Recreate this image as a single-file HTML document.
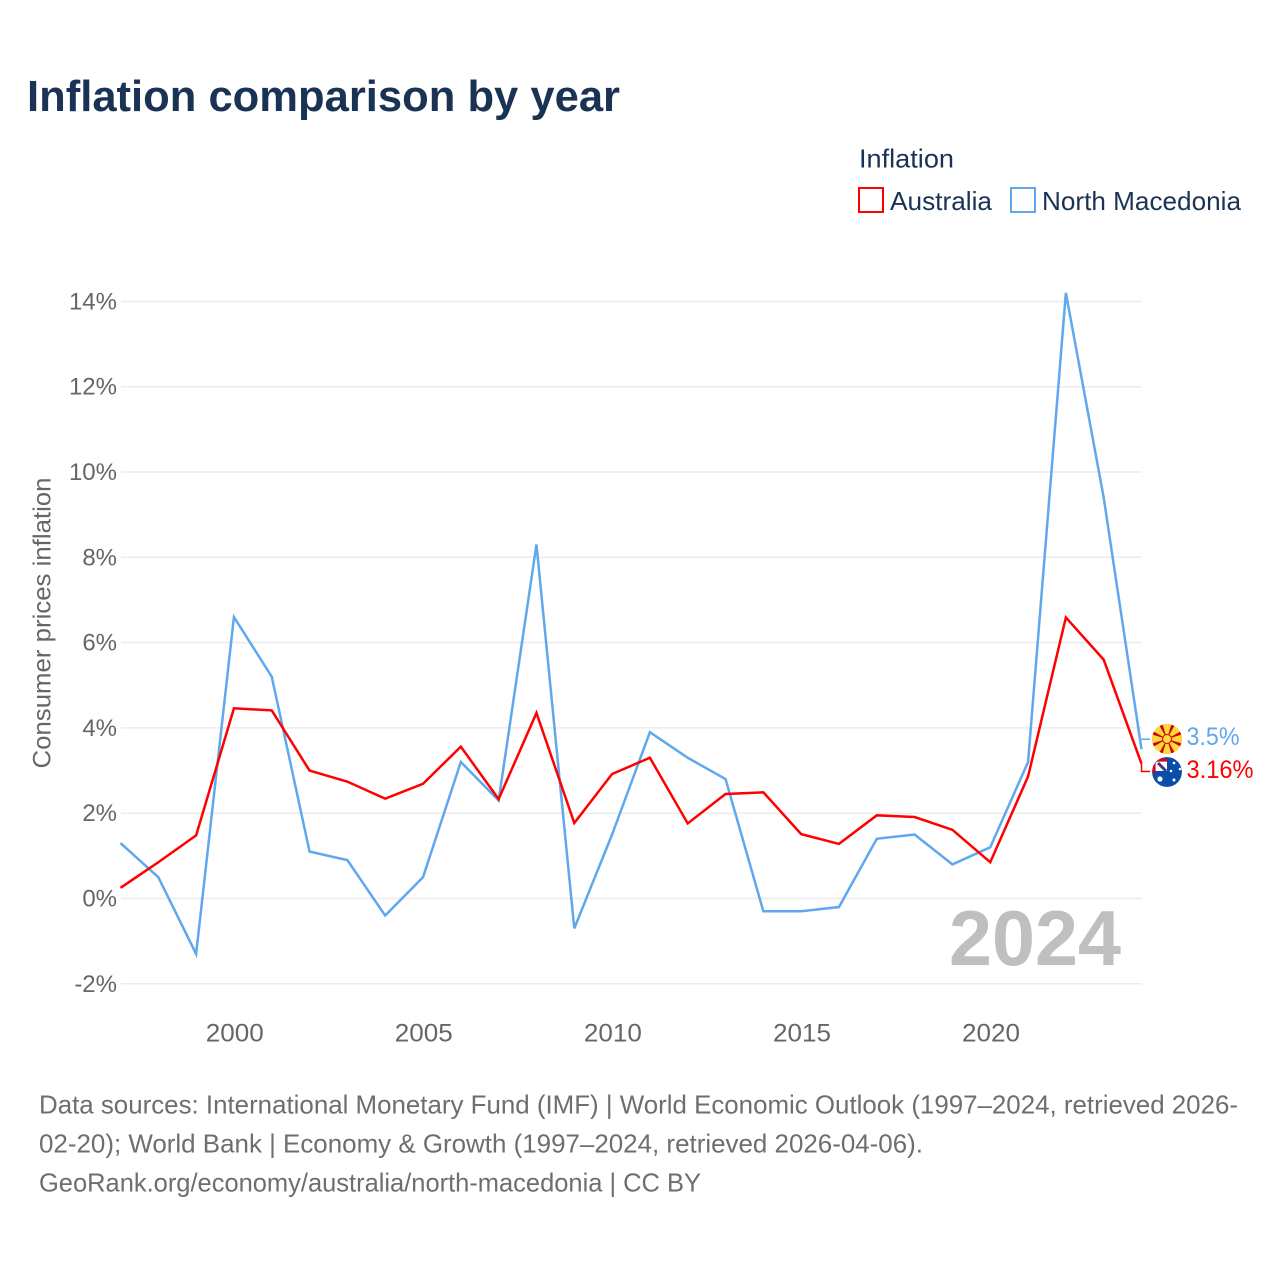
<!DOCTYPE html>
<html>
<head>
<meta charset="utf-8">
<style>
html,body{margin:0;padding:0;background:#fff;}
svg{display:block;font-family:"Liberation Sans",sans-serif;}
</style>
</head>
<body>
<svg id="chart" xmlns="http://www.w3.org/2000/svg" width="1280" height="1280" viewBox="0 0 1280 1280">
  <defs>
    <clipPath id="flag-clip-mk"><circle cx="1167" cy="739" r="15"/></clipPath>
    <clipPath id="flag-clip-au"><circle cx="1167" cy="772" r="15"/></clipPath>
  </defs>
  <text x="27" y="111" font-size="44" font-weight="bold" fill="#1a3354" textLength="593" lengthAdjust="spacingAndGlyphs">Inflation comparison by year</text>

  <text x="859" y="167.5" font-size="26" fill="#1a3354" textLength="95" lengthAdjust="spacingAndGlyphs">Inflation</text>
  <g>
    <rect x="859" y="188" width="24" height="24" fill="#fff" stroke="#ff0000" stroke-width="2"/>
    <text x="890" y="210" font-size="26" fill="#1a3354" textLength="102" lengthAdjust="spacingAndGlyphs">Australia</text>
  </g>
  <g>
    <rect x="1011" y="188" width="24" height="24" fill="#fff" stroke="#5fa8ee" stroke-width="2"/>
    <text x="1042" y="210" font-size="26" fill="#1a3354" textLength="199" lengthAdjust="spacingAndGlyphs">North Macedonia</text>
  </g>

  <text transform="translate(50.5,623) rotate(-90)" text-anchor="middle" font-size="25" fill="#666666" textLength="291" lengthAdjust="spacingAndGlyphs">Consumer prices inflation</text>

  <g id="grid"></g>
  <g id="yticks"></g>
  <g id="xticks"></g>

  <text x="1121" y="965" text-anchor="end" font-size="78" font-weight="bold" fill="#bfbfbf" textLength="172" lengthAdjust="spacingAndGlyphs">2024</text>

  <g id="series"></g>

  <path id="conn-mk" fill="none" stroke="#5fa8ee" stroke-width="1.5"/>
  <path id="conn-au" fill="none" stroke="#ff0000" stroke-width="1.5"/>

  <g clip-path="url(#flag-clip-mk)">
    <circle cx="1167" cy="739" r="15" fill="#d20000"/>
    <g fill="#ffd83d">
      <polygon points="1167,739 1162.5,724 1171.5,724"/>
      <polygon points="1167,739 1162.5,754 1171.5,754"/>
      <polygon points="1167,739 1152,734.5 1152,743.5"/>
      <polygon points="1167,739 1182,734.5 1182,743.5"/>
      <polygon points="1167,739 1151,730 1158,723"/>
      <polygon points="1167,739 1183,730 1176,723"/>
      <polygon points="1167,739 1151,748 1158,755"/>
      <polygon points="1167,739 1183,748 1176,755"/>
      <circle cx="1167" cy="739" r="4.5" stroke="#d20000" stroke-width="1"/>
    </g>
  </g>

  <g clip-path="url(#flag-clip-au)">
    <circle cx="1167" cy="772" r="15" fill="#0a4ea8"/>
    <path d="M1154 774 V762 Q1155 759 1158 759 H1167 V771 H1154 Z" fill="#ffffff"/>
    <path d="M1154 773 V763 Q1154.5 760.5 1158 760 H1167" fill="none" stroke="#d4002a" stroke-width="3.2"/>
    <path d="M1158 763 L1166 771" stroke="#0a4ea8" stroke-width="3"/>
    <path d="M1159 764 L1165 770" stroke="#d4002a" stroke-width="1.2"/>
    <g fill="#ffffff">
      <circle cx="1160" cy="779" r="2.6"/>
      <circle cx="1174" cy="763" r="1.3"/>
      <circle cx="1180" cy="769" r="1.3"/>
      <circle cx="1171" cy="771" r="1.3"/>
      <circle cx="1174" cy="780" r="1.5"/>
    </g>
  </g>

  <text x="1186.5" y="745" font-size="25" fill="#5fa8ee" textLength="53" lengthAdjust="spacingAndGlyphs">3.5%</text>
  <text x="1186.5" y="778" font-size="25" fill="#ff0000" textLength="67" lengthAdjust="spacingAndGlyphs">3.16%</text>

  <g font-size="26" fill="#6e6e6e">
    <text x="39" y="1113.5" textLength="1199" lengthAdjust="spacingAndGlyphs">Data sources: International Monetary Fund (IMF) | World Economic Outlook (1997–2024, retrieved 2026-</text>
    <text x="39" y="1152.5" textLength="884" lengthAdjust="spacingAndGlyphs">02-20); World Bank | Economy &amp; Growth (1997–2024, retrieved 2026-04-06).</text>
    <text x="39" y="1191.5" textLength="662" lengthAdjust="spacingAndGlyphs">GeoRank.org/economy/australia/north-macedonia | CC BY</text>
  </g>
</svg>
<script>
var years = [1997,1998,1999,2000,2001,2002,2003,2004,2005,2006,2007,2008,2009,2010,2011,2012,2013,2014,2015,2016,2017,2018,2019,2020,2021,2022,2023,2024];
var australia = [0.25,0.85,1.48,4.46,4.41,3.0,2.74,2.34,2.69,3.56,2.33,4.35,1.77,2.92,3.30,1.76,2.45,2.49,1.51,1.28,1.95,1.91,1.61,0.85,2.86,6.59,5.6,3.16];
var northMacedonia = [1.3,0.5,-1.3,6.6,5.2,1.1,0.9,-0.4,0.5,3.2,2.3,8.3,-0.7,1.5,3.9,3.3,2.8,-0.3,-0.3,-0.2,1.4,1.5,0.8,1.2,3.2,14.2,9.4,3.5];
var yTickValues = [-2,0,2,4,6,8,10,12,14];
var yTickLabels = ["-2%","0%","2%","4%","6%","8%","10%","12%","14%"];
var xTickValues = [2000,2005,2010,2015,2020];
var xTickLabels = ["2000","2005","2010","2015","2020"];

var NS = "http://www.w3.org/2000/svg";
function xScale(year){ return 120.5 + (year - 1997) * (1141.5 - 120.5) / 27; }
function yScale(v){ return 898.5 - v * 42.65; }

var grid = document.getElementById("grid");
var yticks = document.getElementById("yticks");
var xticks = document.getElementById("xticks");
var series = document.getElementById("series");

yTickValues.forEach(function(v, i){
  var line = document.createElementNS(NS, "line");
  
  
  line.setAttribute("x1", 121);
  line.setAttribute("x2", 1142);
  line.setAttribute("y1", yScale(v));
  line.setAttribute("y2", yScale(v));
  line.setAttribute("stroke", "#ececec");
  line.setAttribute("stroke-width", "1.5");
  grid.appendChild(line);

  var t = document.createElementNS(NS, "text");
  
  
  t.setAttribute("x", 117);
  t.setAttribute("y", yScale(v) + 8);
  t.setAttribute("text-anchor", "end");
  t.setAttribute("font-size", "24");
  t.setAttribute("fill", "#666666");
  t.textContent = yTickLabels[i];
  yticks.appendChild(t);
});

xTickValues.forEach(function(v, i){
  var t = document.createElementNS(NS, "text");
  
  
  t.setAttribute("x", xScale(v) + 0.8);
  t.setAttribute("y", 1041.5);
  t.setAttribute("text-anchor", "middle");
  t.setAttribute("font-size", "25");
  t.setAttribute("fill", "#666666");
  t.setAttribute("textLength", "58");
  t.setAttribute("lengthAdjust", "spacingAndGlyphs");
  t.textContent = xTickLabels[i];
  xticks.appendChild(t);
});

function pathFor(values){
  return values.map(function(v, i){
    return (i ? "L" : "M") + xScale(years[i]).toFixed(2) + " " + yScale(v).toFixed(2);
  }).join(" ");
}

var lineMk = document.createElementNS(NS, "path");


lineMk.setAttribute("d", pathFor(northMacedonia));
lineMk.setAttribute("fill", "none");
lineMk.setAttribute("stroke", "#5fa8ee");
lineMk.setAttribute("stroke-width", "2.5");
lineMk.setAttribute("stroke-linejoin", "miter");
series.appendChild(lineMk);

var lineAu = document.createElementNS(NS, "path");


lineAu.setAttribute("d", pathFor(australia));
lineAu.setAttribute("fill", "none");
lineAu.setAttribute("stroke", "#ff0000");
lineAu.setAttribute("stroke-width", "2.5");
lineAu.setAttribute("stroke-linejoin", "miter");
series.appendChild(lineAu);

var lastMk = yScale(northMacedonia[northMacedonia.length - 1]);
var lastAu = yScale(australia[australia.length - 1]);
document.getElementById("conn-mk").setAttribute("d", "M1141.5 " + (lastMk - 10) + " H1150");
document.getElementById("conn-au").setAttribute("d", "M1141.5 " + lastAu + " V771.5 H1150");
</script>
</body>
</html>
